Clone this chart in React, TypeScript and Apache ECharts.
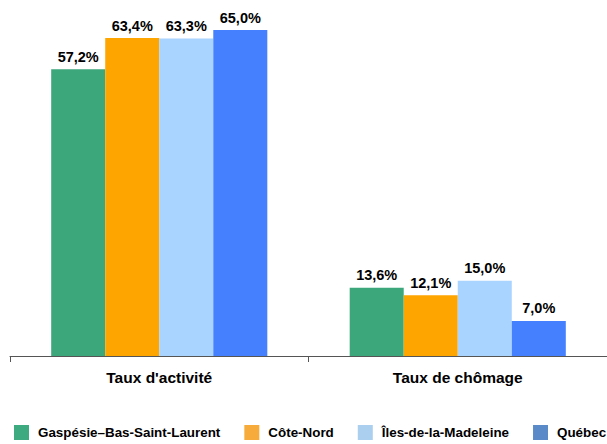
import React, { useEffect, useRef } from "react";
import * as echarts from "echarts";

const categories = ["Taux d'activité", "Taux de chômage"];
const seriesNames = ["Gaspésie–Bas-Saint-Laurent", "Côte-Nord", "Îles-de-la-Madeleine", "Québec"];
const gaspesie = [57.2, 13.6];
const coteNord = [63.4, 12.1];
const iles = [63.3, 15.0];
const quebec = [65.0, 7.0];
const barColors = ["#3CA77B", "#FFA500", "#A9D4FF", "#4580FF"];
const legendColors = ["#3DAA7F", "#F7AB3A", "#ABCFEE", "#5B8AC8"];

const FONT = "'Liberation Sans', Arial, sans-serif";

export default function App() {
  const ref = useRef<HTMLDivElement>(null);
  useEffect(() => {
    document.body.style.margin = "0";
    if (!ref.current) return;
    const chart = echarts.init(ref.current, undefined, { renderer: "svg" });
    const values = [gaspesie, coteNord, iles, quebec];
    chart.setOption({
      animation: false,
      textStyle: { fontFamily: FONT },
      grid: { left: 10, right: 0, top: 5, bottom: 88, containLabel: false },
      legend: {
        left: 14,
        top: 425,
        padding: 0,
        itemWidth: 15,
        itemHeight: 15,
        itemGap: 24,
        icon: "rect",
        formatter: (name: string) => "{a|" + name + "}",
        textStyle: {
          fontFamily: FONT,
          fontWeight: "bold",
          fontSize: 13.4,
          color: "#000",
          rich: {
            a: { fontFamily: FONT, fontWeight: "bold", fontSize: 13.4, color: "#000", padding: [0, 0, 0, 4] },
          },
        },
        data: seriesNames.map((n, i) => ({ name: n, itemStyle: { color: legendColors[i] } })),
      },
      xAxis: {
        type: "category",
        data: categories,
        axisLine: { lineStyle: { color: "#555", width: 1 } },
        axisTick: { show: true, length: 6, lineStyle: { color: "#555" } },
        axisLabel: { fontFamily: FONT, fontWeight: "bold", fontSize: 15.5, color: "#000", margin: 13 },
      },
      yAxis: {
        type: "value",
        min: 0,
        max: 70,
        show: false,
        splitLine: { show: false },
      },
      series: seriesNames.map((n, i) => ({
        name: n,
        type: "bar",
        data: values[i],
        barWidth: "18.1%",
        barGap: "0%",
        itemStyle: { color: barColors[i] },
        label: {
          show: true,
          position: "top",
          distance: 5,
          fontFamily: FONT,
          fontWeight: "bold",
          fontSize: 14.5,
          color: "#000",
          formatter: (p: any) => p.value.toFixed(1).replace(".", ",") + "%",
        },
      })),
    });
    return () => chart.dispose();
  }, []);
  return <div ref={ref} style={{ width: 607, height: 444 }} />;
}
